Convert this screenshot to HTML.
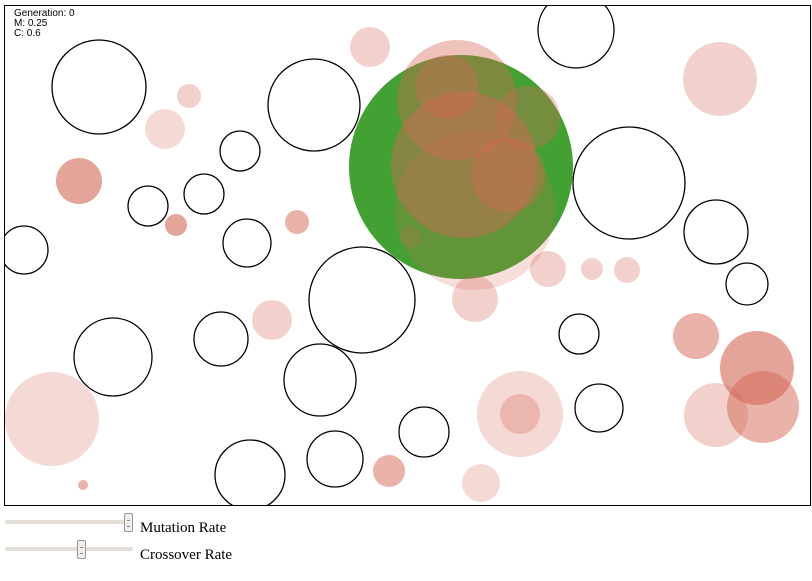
<!DOCTYPE html>
<html><head><meta charset="utf-8"><style>
body{margin:0;background:#fff;width:812px;height:581px;overflow:hidden;position:relative}
.lbl{position:absolute;left:140px;font:15px "Liberation Serif",serif;color:#000}
.track{position:absolute;left:5px;width:128px;height:4px;background:#e3ded7;border-radius:2px}
.thumb{position:absolute;width:9px;height:19px;background:#f0eeea;border:1px solid #9c9891;border-radius:2px;box-sizing:border-box}
.thumb:after{content:"";position:absolute;left:2px;top:6px;width:3px;height:5px;border-top:1px solid #888;border-bottom:1px solid #888}
</style></head><body>
<svg id="vis" width="812" height="510" style="position:absolute;left:0;top:0">
<defs><clipPath id="cp"><rect x="4" y="5" width="807" height="501"/></clipPath></defs>
<rect x="4.5" y="5.5" width="806" height="500" fill="#fff"/>
<g id="g" clip-path="url(#cp)"></g>
<rect x="4.5" y="5.5" width="806" height="500" fill="none" stroke="#000"/>
<text x="14" y="16" font-family="Liberation Sans,sans-serif" font-size="10">Generation: 0</text>
<text x="14" y="26" font-family="Liberation Sans,sans-serif" font-size="10">M: 0.25</text>
<text x="14" y="36" font-family="Liberation Sans,sans-serif" font-size="10">C: 0.6</text>
</svg>
<div class="track" style="top:520px"></div>
<div class="thumb" style="left:124px;top:513px"></div>
<div class="lbl" style="top:520px">Mutation Rate</div>
<div class="track" style="top:547px"></div>
<div class="thumb" style="left:77px;top:540px"></div>
<div class="lbl" style="top:547px">Crossover Rate</div>
<script>
const obstaclesX=[99,576,314,240,148,204,24,247,629,716,747,362,113,221,320,579,599,424,335,250];
const obstaclesY=[87,30,105,151,206,194,250,243,183,232,284,300,357,339,380,334,408,432,459,475];
const obstaclesR=[47,38,46,20,20,20,24,24,56,32,21,53,39,27,36,20,24,25,28,35];
const bestX=461,bestY=167,bestR=112;
const popX=[370,720,189,165,79,176,297,475,457,447,528,464,508,411,475,548,592,627,272,696,757,763,716,520,520,52,389,481,83];
const popY=[47,79,96,129,181,225,222,210,100,87,118,165,175,237,299,269,269,270,320,336,368,407,415,414,414,419,471,483,485];
const popR=[20,37,12,20,23,11,12,80,60,32,32,73,37,11,23,18,11,13,20,23,37,36,32,43,20,47,16,19,5];
const popA=[0.3,0.3,0.3,0.25,0.6,0.6,0.5,0.22,0.4,0.4,0.35,0.45,0.4,0.2,0.3,0.3,0.3,0.3,0.3,0.5,0.6,0.5,0.3,0.25,0.3,0.25,0.5,0.25,0.5];
const g=document.getElementById('g');
const NS='http://www.w3.org/2000/svg';
function circ(x,y,r){const c=document.createElementNS(NS,'circle');c.setAttribute('cx',x);c.setAttribute('cy',y);c.setAttribute('r',r);g.appendChild(c);return c;}
obstaclesX.forEach((x,i)=>{const c=circ(x,obstaclesY[i],obstaclesR[i]);c.setAttribute('fill','none');c.setAttribute('stroke','#000');c.setAttribute('stroke-width','1.3');

});
const b=circ(bestX,bestY,bestR);b.setAttribute('fill','#42a132');


popX.forEach((x,i)=>{const c=circ(x,popY[i],popR[i]);c.setAttribute('fill','rgb(212,104,86)');c.setAttribute('fill-opacity',popA[i]);

});
</script>
</body></html>
